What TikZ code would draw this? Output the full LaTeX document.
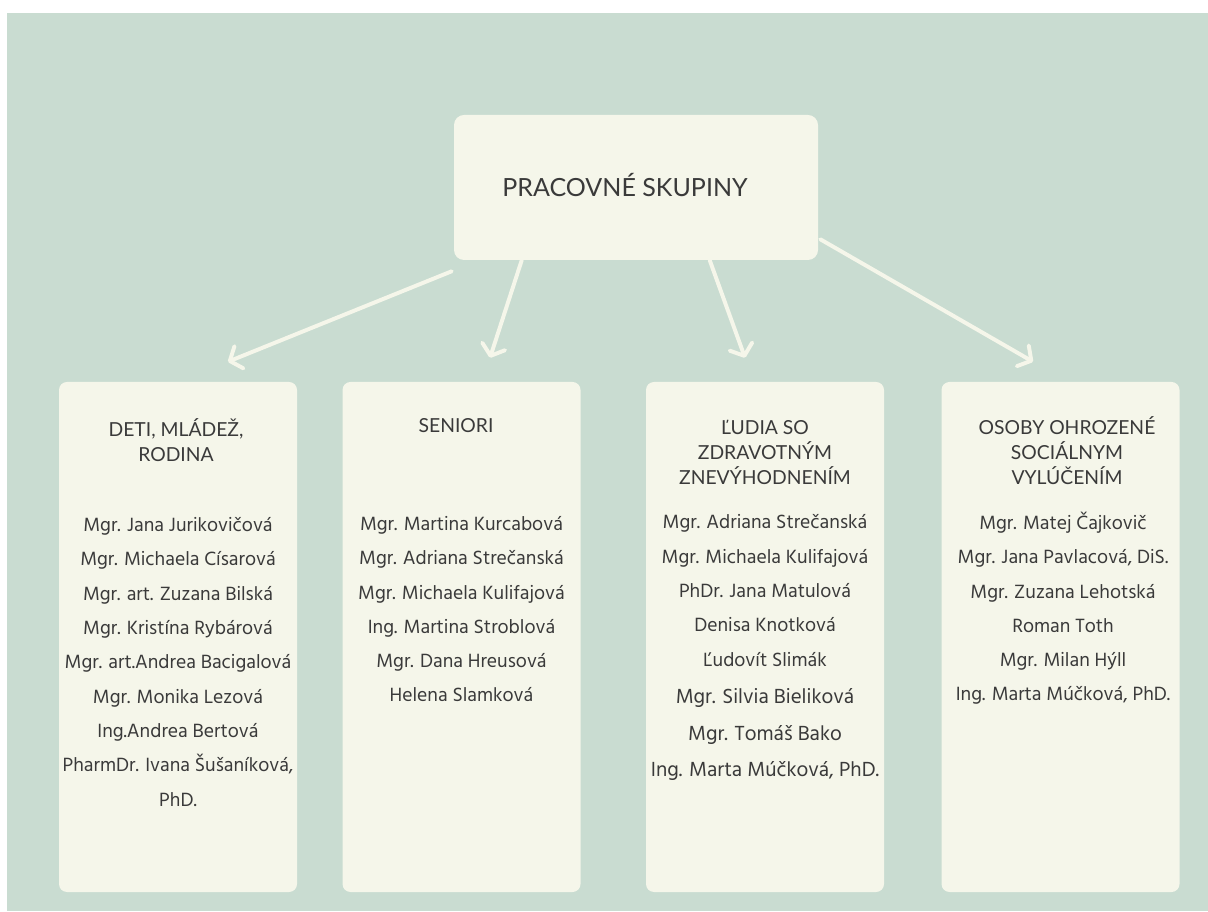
\documentclass[tikz,border=0pt]{standalone}
\usepackage{fontspec}
\setmainfont{Hind Madurai}
\newfontfamily\headfont{Lato}
\usetikzlibrary{arrows.meta}
\definecolor{sage}{HTML}{C9DCD1}
\definecolor{cream}{HTML}{F5F6EA}
\definecolor{ink}{HTML}{3A3A3A}
\tikzset{
  card/.style={fill=cream,rounded corners=0.2cm,minimum width=5.95cm,minimum height=12.75cm,inner sep=0pt},
  head/.style={text=ink,font=\headfont\fontsize{13.75}{17.8}\selectfont,align=center,anchor=base},
  names/.style={text=ink,font=\fontsize{14}{24.4}\selectfont,align=center,anchor=base},
  arr/.style={cream,line width=2.8pt,line cap=round,-{Straight Barb[round,length=7pt,width=17pt]}}
}

\begin{document}
\begin{tikzpicture}
\useasboundingbox (0,0) rectangle (30.2,22.775);
\fill[white] (0,0) rectangle (30.2,22.775);
\fill[sage] (0.175,0) rectangle (30.2,22.45);
% hlavny box
\node[card,minimum width=9.1cm,minimum height=3.625cm,rounded corners=0.25cm] (top) at (15.9,18.0875) {};
\node[head,font=\headfont\fontsize{17.8}{20}\selectfont] (toptxt) at (15.625,17.85) {PRACOVNÉ SKUPINY};
% stlpce
\node[card] (col1) at (4.45,6.85) {};
\node[card] (col2) at (11.5375,6.85) {};
\node[card] (col3) at (19.125,6.85) {};
\node[card] (col4) at (26.5125,6.85) {};
% sipky
\draw[arr] ([xshift=-0.05cm,yshift=-0.275cm]top.south west) -- ([xshift=1.25cm,yshift=0.5cm]col1.north);
\draw[arr] ([xshift=1.7cm]top.south west) -- ([xshift=0.7125cm,yshift=0.6cm]col2.north);
\draw[arr] ([xshift=6.4cm]top.south west) -- ([xshift=-0.5cm,yshift=0.6cm]col3.north);
\draw[arr] ([xshift=0.05cm,yshift=0.525cm]top.south east) -- ([xshift=-0.6875cm,yshift=0.5cm]col4.north);
% nadpisy (base = posledny riadok)
\node[head] (h1) at (4.4,11.2375) {DETI, MLÁDEŽ,\\RODINA};
\node[head] (h2) at (11.4,11.95) {SENIORI};
\node[head] (h3) at (19.125,10.65) {ĽUDIA SO\\ZDRAVOTNÝM\\ZNEVÝHODNENÍM};
\node[head] (h4) at (26.675,10.65) {OSOBY OHROZENÉ\\SOCIÁLNYM\\VYLÚČENÍM};
% mena
\node[names] (n1) at (4.45,2.625) {Mgr. Jana Jurikovičová\\Mgr. Michaela Císarová\\Mgr. art. Zuzana Bilská\\Mgr. Kristína Rybárová\\Mgr. art.Andrea Bacigalová\\Mgr. Monika Lezová\\Ing.Andrea Bertová\\PharmDr. Ivana Šušaníková,\\PhD.};
\node[names] (n2) at (11.5375,5.225) {Mgr. Martina Kurcabová\\Mgr. Adriana Strečanská\\Mgr. Michaela Kulifajová\\Ing. Martina Stroblová\\Mgr. Dana Hreusová\\Helena Slamková};
\node[names] (n3) at (19.125,3.375) {Mgr. Adriana Strečanská\\Mgr. Michaela Kulifajová\\PhDr. Jana Matulová\\Denisa Knotková\\Ľudovít Slimák\\[2pt]{\fontsize{14.9}{26}\selectfont Mgr. Silvia Bieliková}\\[2pt]{\fontsize{14.9}{26}\selectfont Mgr. Tomáš Bako}\\[1pt]{\fontsize{14.9}{26}\selectfont Ing. Marta Múčková, PhD.}};
\node[names] (n4) at (26.575,5.25) {Mgr. Matej Čajkovič\\Mgr. Jana Pavlacová, DiS.\\Mgr. Zuzana Lehotská\\Roman Toth\\Mgr. Milan Hýll\\Ing. Marta Múčková, PhD.};
\end{tikzpicture}
\end{document}
